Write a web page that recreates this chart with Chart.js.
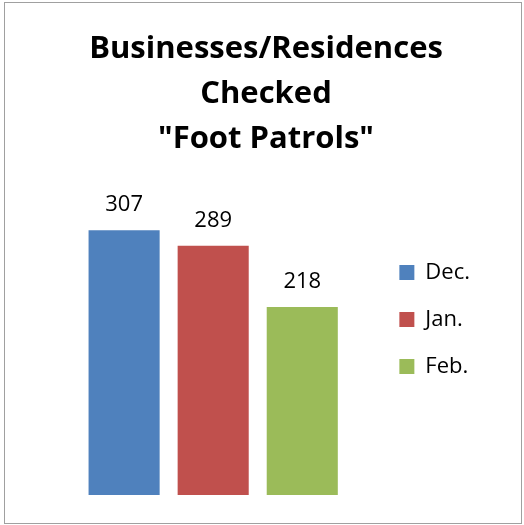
<!DOCTYPE html>
<html>
<head>
<meta charset="utf-8">
<script src="https://cdn.jsdelivr.net/npm/chart.js@4"></script>
<style>
    html, body { margin: 0; padding: 0; background: #fff; }
    #chart { position: absolute; left: 0; top: 0; }
    .frame { position: absolute; left: 4px; top: 2px; width: 516px; height: 520px; border: 1px solid #a0a0a0; pointer-events: none; }
</style>
</head>
<body>
<canvas id="chart" width="524" height="525"></canvas>
<div class="frame"></div>
<script>
const titleLines = ['Businesses/Residences', 'Checked', '"Foot Patrols"'];
const months = ['Dec.', 'Jan.', 'Feb.'];
const checked = [307, 289, 218];
const colors = ['#4F81BD', '#C0504D', '#9BBB59'];

// value labels above each bar
const valueLabels = {
    id: 'valueLabels',
    afterDatasetsDraw(chart) {
        const ctx = chart.ctx;
        ctx.save();
        ctx.font = '22px "Open Sans"';
        ctx.fillStyle = '#000';
        ctx.textAlign = 'center';
        ctx.textBaseline = 'alphabetic';
        chart.data.datasets.forEach((ds, i) => {
            const bar = chart.getDatasetMeta(i).data[0];
            ctx.fillText(String(ds.data[0]), bar.x, bar.y - 19);
        });
        ctx.restore();
    }
};

const ctx = document.getElementById('chart').getContext('2d');
new Chart(ctx, {
    type: 'bar',
    data: {
        labels: [''],
        datasets: months.map((m, i) => ({
            label: m,
            data: [checked[i]],
            backgroundColor: colors[i],
            borderWidth: 0,
            categoryPercentage: 0.829,
            barPercentage: 0.798
        }))
    },
    options: {
        responsive: false,
        animation: false,
        layout: {
            padding: { left: 52, right: 44, top: 0, bottom: 30 }
        },
        plugins: {
            title: {
                display: true,
                text: titleLines,
                color: '#000',
                font: { family: '"Open Sans"', size: 31, weight: 'bold', lineHeight: 1.452 },
                padding: { top: 27, bottom: 0 }
            },
            legend: {
                position: 'right',
                align: 'start',
                title: {
                    display: true,
                    text: '',
                    font: { size: 12, lineHeight: 1.2 },
                    padding: { top: 222, bottom: 0 }
                },
                labels: {
                    color: '#000',
                    font: { family: '"Open Sans"', size: 22 },
                    boxWidth: 15,
                    boxHeight: 15,
                    padding: 25
                }
            },
            tooltip: { enabled: false }
        },
        scales: {
            x: { display: false },
            y: { display: false, min: 0, max: 386 }
        }
    },
    plugins: [valueLabels]
});
</script>
</body>
</html>
